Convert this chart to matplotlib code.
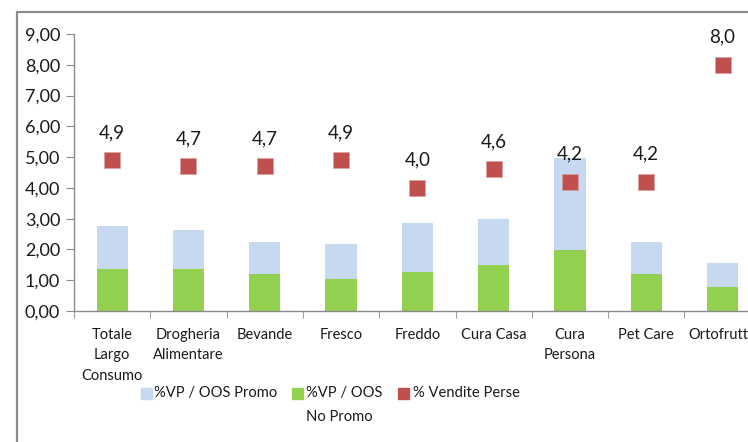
import matplotlib.pyplot as plt
from matplotlib.patches import Rectangle

plt.rcParams['font.family'] = ['Lato', 'DejaVu Sans']

categorie = ["Totale\nLargo\nConsumo", "Drogheria\nAlimentare", "Bevande", "Fresco",
             "Freddo", "Cura Casa", "Cura\nPersona", "Pet Care", "Ortofrutta"]
oos_no_promo = [1.37, 1.37, 1.21, 1.05, 1.28, 1.49, 1.97, 1.21, 0.78]
oos_promo = [1.38, 1.26, 1.04, 1.13, 1.57, 1.51, 3.01, 1.03, 0.78]
vendite_perse = [4.9, 4.7, 4.7, 4.9, 4.0, 4.6, 4.2, 4.2, 8.0]
legenda = [["%VP / OOS Promo"], ["%VP / OOS", "No Promo"], ["% Vendite Perse"]]

col_promo = "#C6D9F1"
col_nopromo = "#92D050"
col_perse = "#C0504D"
grigio = "#8C8C8C"
testo = "#1a1a1a"

W, H = 748, 442
fig = plt.figure(figsize=(W / 100, H / 100), dpi=100)
ax = fig.add_axes([74 / W, 1 - 311 / H, (760.7 - 74) / W, (311 - 34) / H])

x = range(len(categorie))
ax.bar(x, oos_no_promo, width=0.41, color=col_nopromo, zorder=2)
ax.bar(x, oos_promo, width=0.41, bottom=oos_no_promo, color=col_promo, zorder=2)
ax.plot(x, vendite_perse, linestyle="none", marker="s", markersize=11.8,
        color=col_perse, markeredgecolor="#D9A09E", markeredgewidth=0.5, zorder=3)

for xi, v in zip(x, vendite_perse):
    ax.annotate(f"{v:.1f}".replace(".", ","), (xi, v), xytext=(0, 20),
                textcoords="offset points", ha="center", va="center",
                fontsize=13.5, color=testo, zorder=4)

ax.set_xlim(-0.5, len(categorie) - 0.5)
ax.set_ylim(0, 9)
ax.set_yticks(range(10))
ax.set_yticklabels([f"{v},00" for v in range(10)], fontsize=13, color=testo)
ax.set_xticks(list(x))
ax.set_xticklabels(categorie, fontsize=10.5, color=testo, linespacing=1.6)
ax.set_xticks([i + 0.5 for i in range(-1, len(categorie))], minor=True)
ax.tick_params(axis="x", which="major", length=0, pad=12)
ax.tick_params(axis="x", which="minor", length=5, color=grigio, direction="out")
ax.tick_params(axis="y", length=6, color=grigio, direction="out", pad=4)

for s in ["top", "right"]:
    ax.spines[s].set_visible(False)
for s in ["left", "bottom"]:
    ax.spines[s].set_color(grigio)
    ax.spines[s].set_linewidth(1.0)

# cornice esterna del grafico
fig.patches.append(Rectangle((16.5 / W, -0.2), 1.2, 1.2 - 11.5 / H,
                             transform=fig.transFigure, fill=False,
                             edgecolor=grigio, linewidth=1.6))

# legenda
pos_quadrato = [141, 292, 398]
pos_testo = [154, 306, 413]
colori = [col_promo, col_nopromo, col_perse]
for qx, tx, c, righe in zip(pos_quadrato, pos_testo, colori, legenda):
    fig.patches.append(Rectangle((qx / W, 1 - 399 / H), 11 / W, 11 / H,
                                 transform=fig.transFigure, color=c))
    for k, riga in enumerate(righe):
        fig.text(tx / W, 1 - (393 + 24 * k) / H, riga, ha="left", va="center",
                 fontsize=10.6, color=testo)

fig.savefig("out.png", dpi=100)
